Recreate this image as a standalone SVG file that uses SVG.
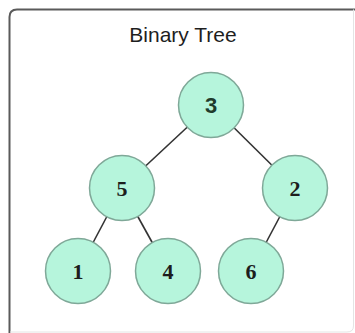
<svg xmlns="http://www.w3.org/2000/svg" width="355" height="333" viewBox="0 0 355 333">
  <style>
    .node circle { fill: #b6f5dc; stroke: #7fa898; stroke-width: 1.5; }
    .node text { font-family: "Liberation Serif", "Times New Roman", serif; font-weight: bold; font-size: 22px; fill: #1d1d1d; text-anchor: middle; }
    .edge { stroke: #333333; stroke-width: 1.6; fill: none; }
    .title { font-family: "Liberation Sans", Arial, sans-serif; font-size: 21px; fill: #1e1e1e; text-anchor: middle; }
  </style>
  <rect x="0" y="0" width="355" height="333" fill="#ffffff"/>
  <g id="frame">
    <path d="M9.5 340 V17 Q9.5 9.5 17 9.5 H360" fill="none" stroke="#5a5a5a" stroke-width="2"/>
    <path d="M353.5 9.5 V326 Q353.5 332 347 332 H10" fill="none" stroke="#e4e4e4" stroke-width="1"/>
  </g>
  <text class="title" x="183" y="42">Binary Tree</text>
  <g id="connectors">
    <line class="edge" x1="211" y1="105" x2="122" y2="188"/>
    <line class="edge" x1="211" y1="105" x2="295" y2="188"/>
    <line class="edge" x1="122" y1="188" x2="78" y2="271"/>
    <line class="edge" x1="122" y1="188" x2="168" y2="271"/>
    <line class="edge" x1="295" y1="188" x2="251" y2="271"/>
  </g>
  <g id="node-3" class="node">
    <circle cx="211" cy="105" r="32.5"/>
    <text x="211" y="113" style="font-family:'Liberation Sans',Arial,sans-serif;fill:#1f3b2c">3</text>
  </g>
  <g id="node-5" class="node">
    <circle cx="122" cy="188" r="32.5"/>
    <text x="122" y="196">5</text>
  </g>
  <g id="node-2" class="node">
    <circle cx="295" cy="188" r="32.5"/>
    <text x="295" y="196">2</text>
  </g>
  <g id="node-1" class="node">
    <circle cx="78" cy="271" r="32.5"/>
    <text x="78" y="279">1</text>
  </g>
  <g id="node-4" class="node">
    <circle cx="168" cy="271" r="32.5"/>
    <text x="168" y="279">4</text>
  </g>
  <g id="node-6" class="node">
    <circle cx="251" cy="271" r="32.5"/>
    <text x="251" y="279">6</text>
  </g>
</svg>
